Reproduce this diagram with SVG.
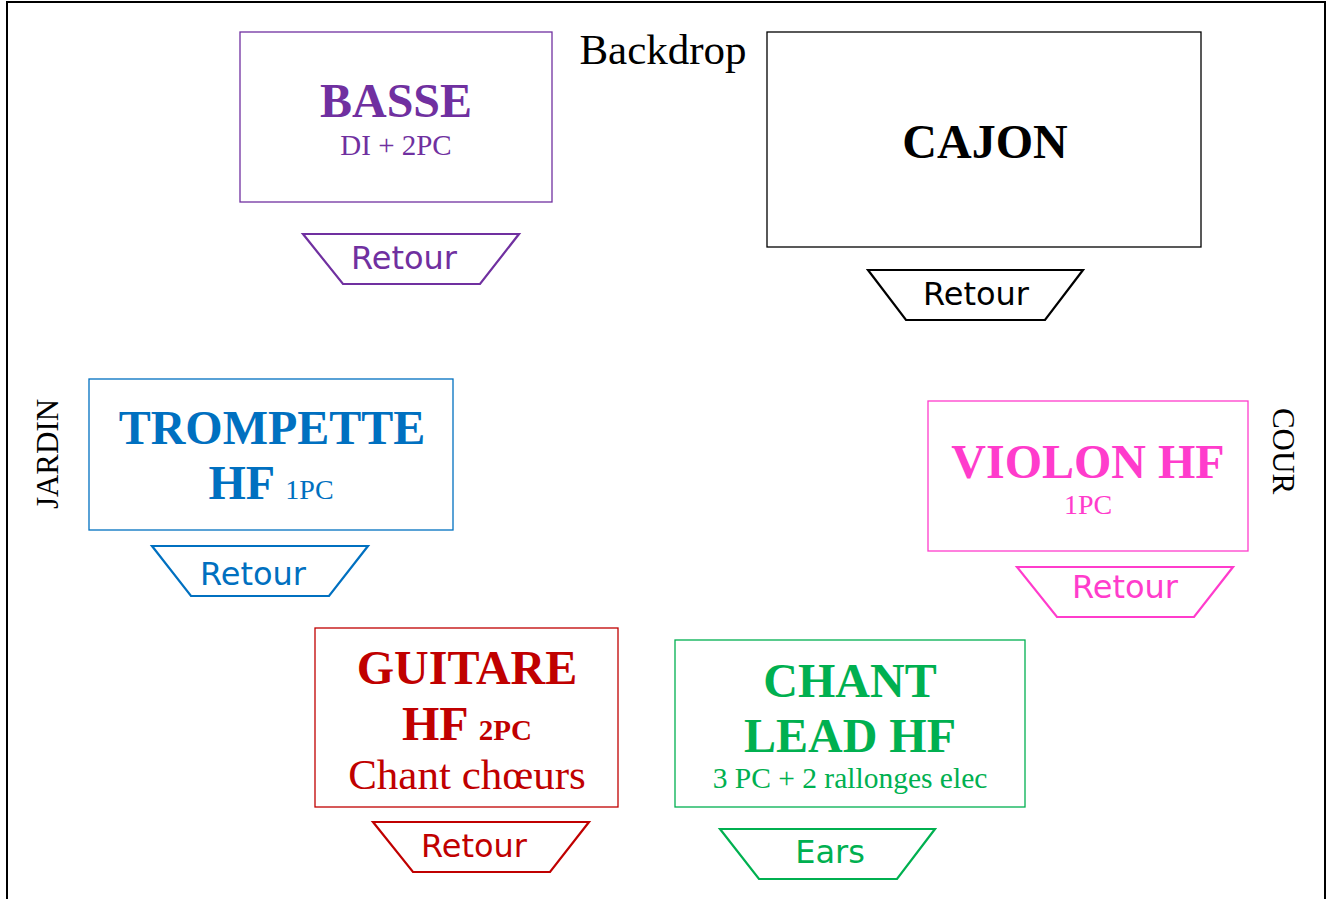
<svg xmlns="http://www.w3.org/2000/svg" width="1327" height="899" viewBox="0 0 1327 899">
<style>
.box{fill:#fff;stroke-width:1.3}
.ret{fill:#fff;stroke-width:2.2}
.t{font-family:"Liberation Serif","Times New Roman",serif;text-anchor:middle}
.b{font-weight:bold;font-size:48px}
.s{font-size:29px}
.r{font-family:"DejaVu Sans",Verdana,sans-serif;font-size:32px;text-anchor:middle}
</style>
<rect x="7" y="2" width="1318" height="920" fill="#fff" stroke="#000" stroke-width="2"/>
<text x="663" y="64" class="t" font-size="43">Backdrop</text>
<text class="t" font-size="31" transform="translate(58,454) rotate(-90)">JARDIN</text>
<text class="t" font-size="31" transform="translate(1273,451) rotate(90)">COUR</text>
<g id="connectors"></g>
<g id="basse" fill="#7030A0" stroke="#7030A0">
<rect class="box" x="240" y="32" width="312" height="170"/>
<text x="396" y="117" class="t b" stroke="none">BASSE</text>
<text x="396" y="155" class="t s" stroke="none">DI + 2PC</text>
</g>
<g id="basse-retour" fill="#7030A0" stroke="#7030A0">
<polygon class="ret" points="303,234 519,234 480,284 343,284"/>
<text x="404" y="269" class="r" stroke="none">Retour</text>
</g>
<g id="cajon" fill="#000" stroke="#000">
<rect class="box" x="767" y="32" width="434" height="215"/>
<text x="985" y="158" class="t b" stroke="none">CAJON</text>
</g>
<g id="cajon-retour" fill="#000" stroke="#000">
<polygon class="ret" points="868,270 1083,270 1045,320 906,320"/>
<text x="976" y="305" class="r" stroke="none">Retour</text>
</g>
<g id="trompette" fill="#0070C0" stroke="#0070C0">
<rect class="box" x="89" y="379" width="364" height="151"/>
<text x="272" y="444" class="t b" stroke="none">TROMPETTE</text>
<text x="271" y="499" class="t b" stroke="none">HF <tspan font-weight="normal" font-size="28">1PC</tspan></text>
</g>
<g id="trompette-retour" fill="#0070C0" stroke="#0070C0">
<polygon class="ret" points="152,546 368,546 329,596 191,596"/>
<text x="253" y="585" class="r" stroke="none">Retour</text>
</g>
<g id="violon" fill="#FF3CCC" stroke="#FF3CCC">
<rect class="box" x="928" y="401" width="320" height="150"/>
<text x="1088" y="478" class="t b" stroke="none">VIOLON HF</text>
<text x="1088" y="514" class="t" font-size="28" stroke="none">1PC</text>
</g>
<g id="violon-retour" fill="#FF3CCC" stroke="#FF3CCC">
<polygon class="ret" points="1017,567 1233,567 1194,617 1057,617"/>
<text x="1125" y="598" class="r" stroke="none">Retour</text>
</g>
<g id="guitare" fill="#C00000" stroke="#C00000">
<rect class="box" x="315" y="628" width="303" height="179"/>
<text x="467" y="684" class="t b" stroke="none">GUITARE</text>
<text x="467" y="740" class="t b" stroke="none">HF <tspan font-size="29">2PC</tspan></text>
<text x="467" y="789" class="t" font-size="43" stroke="none">Chant chœurs</text>
</g>
<g id="guitare-retour" fill="#C00000" stroke="#C00000">
<polygon class="ret" points="373,822 589,822 550,872 413,872"/>
<text x="474" y="857" class="r" stroke="none">Retour</text>
</g>
<g id="chant" fill="#00B050" stroke="#00B050">
<rect class="box" x="675" y="640" width="350" height="167"/>
<text x="850" y="697" class="t b" stroke="none">CHANT</text>
<text x="850" y="752" class="t b" stroke="none">LEAD HF</text>
<text x="850" y="788" class="t" font-size="29.5" stroke="none">3 PC + 2 rallonges elec</text>
</g>
<g id="chant-ears" fill="#00B050" stroke="#00B050">
<polygon class="ret" points="720,829 935,829 897,879 759,879"/>
<text x="830" y="863" class="r" stroke="none">Ears</text>
</g>
</svg>
